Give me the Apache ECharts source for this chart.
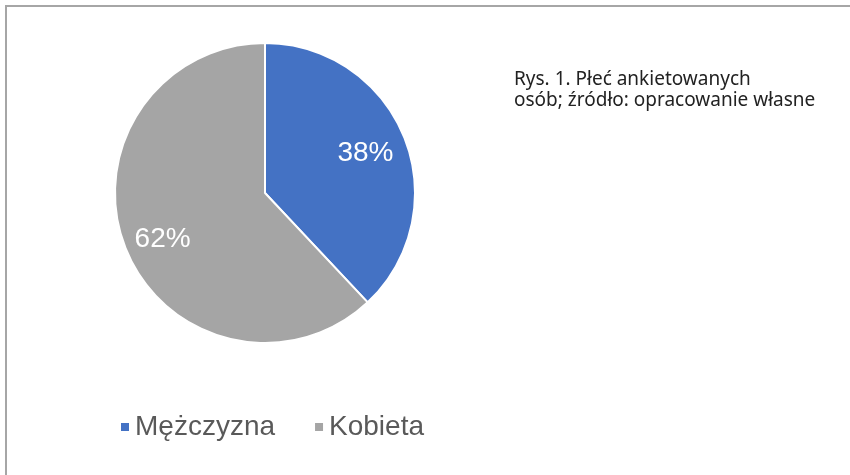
<!DOCTYPE html>
<html>
<head>
<meta charset="utf-8">
<script src="https://cdn.jsdelivr.net/npm/echarts@6/dist/echarts.min.js"></script>
<style>
  html, body { margin: 0; padding: 0; background: #fff; }
  #main { width: 850px; height: 475px; }
</style>
</head>
<body>
<div id="main"></div>
<script>
var categories = ['Mężczyzna', 'Kobieta'];
var values = [38, 62];
var colors = ['#4472C4', '#A5A5A5'];
var captionLines = ['Rys. 1. Płeć ankietowanych', 'osób; źródło: opracowanie własne'];

var chart = echarts.init(document.getElementById('main'));

var pieData = [];
for (var i = 0; i < categories.length; i++) {
    pieData.push({ name: categories[i], value: values[i] });
}

// etykiety dla warstwy z procentami (drugi wycinek lekko niżej, jak w oryginale)
var labelData = pieData.map(function (d, i) {
    var item = { name: d.name, value: d.value };
    if (i === 1) {
        item.label = { offset: [-2, 7] };
    }
    return item;
});

var option = {
    animation: false,
    color: colors,
    legend: {
        data: categories,
        left: 114,
        top: 408,
        icon: 'rect',
        itemWidth: 10,
        itemHeight: 10,
        itemGap: 38,
        textStyle: {
            fontFamily: 'Liberation Sans, Arial, sans-serif',
            fontSize: 28,
            color: '#595959'
        }
    },
    graphic: [
        {
            type: 'polyline',
            shape: { points: [[6, 480], [6, 6], [860, 6]] },
            style: { stroke: '#a6a6a6', lineWidth: 2, fill: null },
            silent: true
        },
        {
            type: 'text',
            left: 514,
            top: 69,
            style: {
                text: captionLines.join('\n'),
                font: '19px "Noto Sans", sans-serif',
                lineHeight: 21,
                fill: '#222'
            }
        }
    ],
    series: [
        {
            // główny wykres kołowy
            name: 'Płeć',
            type: 'pie',
            center: [265, 193],
            radius: [0, 150],
            startAngle: 90,
            clockwise: true,
            label: { show: false },
            labelLine: { show: false },
            itemStyle: { borderColor: '#fff', borderWidth: 2 },
            silent: true,
            data: pieData
        },
        {
            // przezroczysta warstwa tylko na etykiety procentowe
            name: 'etykiety',
            type: 'pie',
            center: [265, 193],
            radius: [60, 150],
            startAngle: 90,
            clockwise: true,
            silent: true,
            legendHoverLink: false,
            itemStyle: { color: 'rgba(0,0,0,0)' },
            label: {
                show: true,
                position: 'inside',
                formatter: '{c}%',
                color: '#fff',
                fontFamily: 'Liberation Sans, Arial, sans-serif',
                fontSize: 28
            },
            labelLine: { show: false },
            data: labelData
        }
    ]
};
chart.setOption(option);
</script>
</body>
</html>
